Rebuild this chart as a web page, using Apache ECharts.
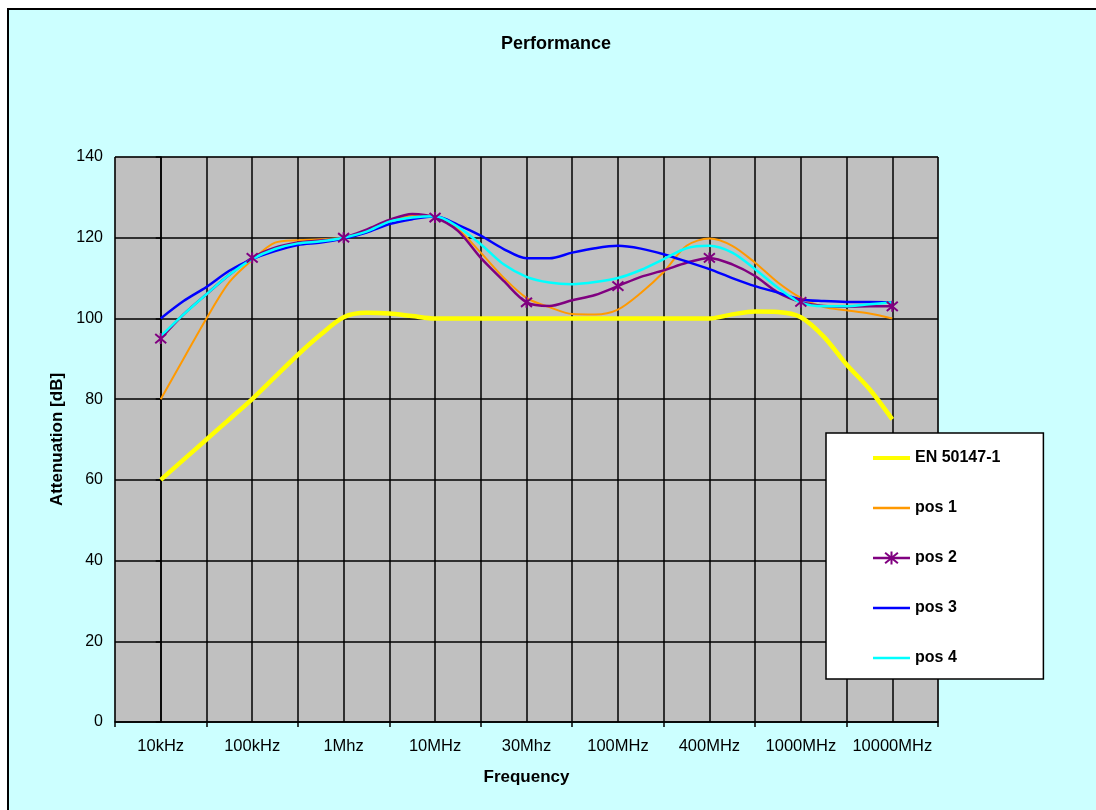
<!DOCTYPE html>
<html><head><meta charset="utf-8">
<script src="https://cdn.jsdelivr.net/npm/echarts@6/dist/echarts.min.js"></script>
<style>
html,body{margin:0;padding:0;background:#fff;overflow:hidden;}
#bg{position:absolute;left:7px;top:8px;width:1100px;height:820px;border:2px solid #000;background:#CCFFFF;}
#chart{position:absolute;left:0;top:0;width:1096px;height:810px;}
</style></head><body>
<div id="bg"></div><div id="chart"></div>
<script>
const categories = ['10kHz','100kHz','1Mhz','10MHz','30Mhz','100MHz','400MHz','1000MHz','10000MHz'];
// sample positions along the category axis (category index units)
const positions = [0,0.25,0.5,0.75,1,1.25,1.5,1.75,2,2.25,2.5,2.75,3,3.25,3.5,3.75,4,4.25,4.5,4.75,5,5.25,5.5,5.75,6,6.25,6.5,6.75,7,7.25,7.5,7.75,8];
const en50147 = [60,65,70,75,80,85.5,91,96,100.3,101.4,101.2,100.6,100,100,100,100,100,100,100,100,100,100,100,100,100,101,101.7,101.6,100.3,95.5,88.6,82.5,75];
const pos1 = [80,90,100,109,114.5,118.8,119.4,119.6,120,121.5,124,125.5,125,122.1,116.3,110.1,105.1,102.8,101.1,101,102.2,106.3,111.5,118,119.8,118,113.8,108.9,105.1,102.8,102,101.2,100];
const pos2 = [95,101,106,110.8,115,117.5,118.8,119.3,120,122,124.4,125.9,125,121.7,115,109.3,104,103.1,104.5,105.8,108,110.3,111.9,113.8,115,113.4,110.5,106.4,104.1,103.1,102.9,103,103];
const pos3 = [100,104.3,107.8,111.8,114.7,116.7,118.2,118.8,119.8,121.3,123.4,124.6,125.3,123.2,120.5,117.2,114.9,114.9,116.3,117.4,118,117.3,115.9,114.1,112.2,110,108,106.4,104.7,104.3,104.1,104.1,104];
const pos4 = [95.6,101,106,110.8,114.7,117.2,118.6,119.1,120,121.5,124,125,125.3,122.7,118.4,113.4,110.3,108.9,108.5,109,110,112,114.7,117.4,118,116.3,112.2,107.6,103.9,103,103,103.5,104];
const pos2Markers = [0,1,2,3,4,5,6,7,8];
const yTicks = [0,20,40,60,80,100,120,140];

const FONT = 'Liberation Sans, Arial, sans-serif';
const toData = vals => positions.map((p, i) => [p, vals[i]]);
const starPath = 'path://M0,0L10,10M10,0L0,10M5,-1L5,11';
const lineOnly = (name, w) => ({name: name, itemStyle: {opacity: 0}, lineStyle: {width: w}});

const chart = echarts.init(document.getElementById('chart'), null, {renderer: 'canvas'});
chart.setOption({
  backgroundColor: 'transparent',
  animation: false,
  title: {
    text: 'Performance', left: 556, top: 35, padding: 0, textAlign: 'center',
    textStyle: {fontFamily: FONT, fontSize: 18, fontWeight: 'bold', color: '#000'}
  },
  legend: {
    orient: 'vertical', left: 826, top: 433,
    padding: [17, 43, 13, 45], itemGap: 34, itemWidth: 37, itemHeight: 16,
    backgroundColor: '#fff', borderColor: '#000', borderWidth: 1.5, borderRadius: 0,
    textStyle: {fontFamily: FONT, fontSize: 16, fontWeight: 'bold', color: '#000'},
    data: [lineOnly('EN 50147-1', 4), lineOnly('pos 1', 2.5),
      {name: 'pos 2', lineStyle: {width: 2.5}}, lineOnly('pos 3', 2.5), lineOnly('pos 4', 2.5)]
  },
  grid: {
    left: 115, top: 157, width: 823, height: 565, containLabel: false,
    show: true, backgroundColor: '#C0C0C0', borderColor: '#808080', borderWidth: 1
  },
  xAxis: {
    type: 'value', min: -0.5, max: 8.5, interval: 1,
    name: 'Frequency', nameLocation: 'middle', nameGap: 47,
    nameTextStyle: {fontFamily: FONT, fontSize: 17, fontWeight: 'bold', color: '#000'},
    axisLine: {show: true, onZero: false, lineStyle: {color: '#000', width: 1.5}},
    axisTick: {show: true, length: 5, inside: false, lineStyle: {color: '#000', width: 1.5}},
    axisLabel: {
      customValues: categories.map((c, i) => i),
      formatter: v => categories[Math.round(v)] || '',
      margin: 16, fontFamily: FONT, fontSize: 16.5, color: '#000'
    },
    splitLine: {show: true, lineStyle: {color: '#000', width: 1.5}},
    minorTick: {show: false, splitNumber: 2},
    minorSplitLine: {show: true, lineStyle: {color: '#000', width: 1.5}}
  },
  yAxis: {
    type: 'value', min: 0, max: 140, interval: 20,
    name: 'Attenuation [dB]', nameLocation: 'middle', nameGap: 48, nameRotate: 90,
    nameTextStyle: {fontFamily: FONT, fontSize: 17, fontWeight: 'bold', color: '#000'},
    axisLine: {show: true, lineStyle: {color: '#000', width: 1.5}},
    axisTick: {show: true, length: 5, inside: false, lineStyle: {color: '#000', width: 1.5}},
    axisLabel: {margin: 12, fontFamily: FONT, fontSize: 16, color: '#000',
      formatter: v => yTicks.indexOf(v) >= 0 ? String(v) : ''},
    splitLine: {show: true, lineStyle: {color: '#000', width: 1.5}}
  },
  series: [
    {name: 'EN 50147-1', type: 'line', data: toData(en50147), smooth: 0.3, symbol: 'none',
      lineStyle: {color: '#FFFF00', width: 4.5}, itemStyle: {color: '#FFFF00'}},
    {name: 'pos 1', type: 'line', data: toData(pos1), smooth: 0.3, symbol: 'none',
      lineStyle: {color: '#FF9900', width: 2}, itemStyle: {color: '#FF9900'}},
    {name: 'pos 2', type: 'line', smooth: 0.3, symbol: starPath, symbolSize: 11, showSymbol: true,
      data: positions.map((p, i) => pos2Markers.indexOf(p) >= 0
        ? {value: [p, pos2[i]]}
        : {value: [p, pos2[i]], symbol: 'none'}),
      lineStyle: {color: '#800080', width: 2.5},
      itemStyle: {color: '#800080', borderColor: '#800080', borderWidth: 2}},
    {name: 'pos 3', type: 'line', data: toData(pos3), smooth: 0.3, symbol: 'none',
      lineStyle: {color: '#0000FF', width: 2.5}, itemStyle: {color: '#0000FF'}},
    {name: 'pos 4', type: 'line', data: toData(pos4), smooth: 0.3, symbol: 'none',
      lineStyle: {color: '#00FFFF', width: 2.5}, itemStyle: {color: '#00FFFF'}}
  ]
});
</script>
</body></html>
